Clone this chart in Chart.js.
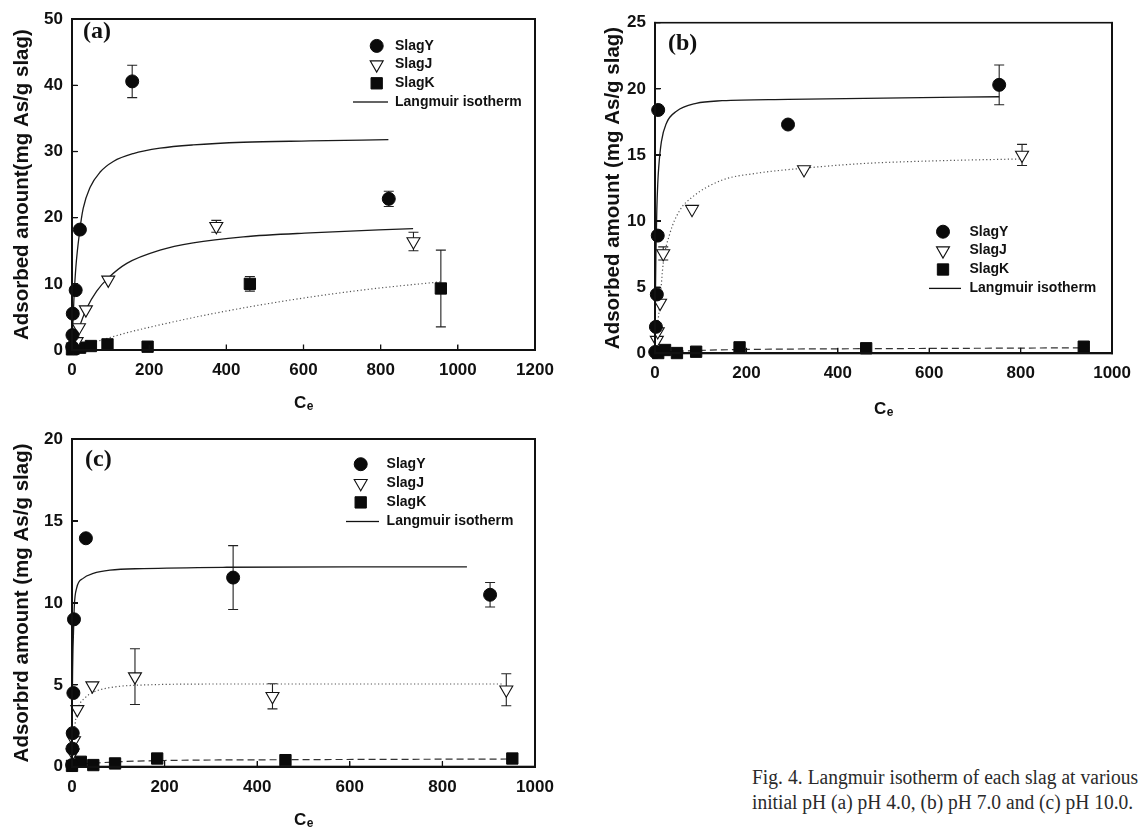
<!DOCTYPE html>
<html>
<head>
<meta charset="utf-8">
<title>Langmuir isotherm of each slag at various initial pH</title>
<style>
    body { margin: 0; background: #fff; width: 1141px; height: 827px; position: relative; overflow: hidden; }
    canvas { position: absolute; }
    .rule { position: absolute; background: #111; pointer-events: none; }
    .cap { position: absolute; left: 752px; width: 386px; font-family: "Liberation Serif", "Times New Roman", serif; font-size: 19.5px; color: #2a2a2a; white-space: nowrap; transform: scaleY(1.12); transform-origin: 0 0; }
    #cap1 { top: 765px; text-align: justify; text-align-last: justify; white-space: normal; }
    #cap2 { top: 790px; }
</style>
<script src="https://cdn.jsdelivr.net/npm/chart.js@4.4.0/dist/chart.umd.min.js"></script>
</head>
<body>
<canvas id="isoA" width="565" height="418" style="left:0px;top:0px"></canvas>
<canvas id="isoB" width="561" height="420" style="left:580px;top:0px"></canvas>
<canvas id="isoC" width="565" height="407" style="left:0px;top:420px"></canvas>
<div class="cap" id="cap1">Fig. 4. Langmuir isotherm of each slag at various</div>
<div class="cap" id="cap2">initial pH (a) pH 4.0, (b) pH 7.0 and (c) pH 10.0.</div>
<script>
const SERIES_NAMES = ["SlagY", "SlagJ", "SlagK"];
const FIT_NAME = "Langmuir isotherm";

// (a) pH 4.0
const A_X_TICKS = [0, 200, 400, 600, 800, 1000, 1200];
const A_Y_TICKS = [0, 10, 20, 30, 40, 50];
const A_Y_C = [0.6, 1.2, 2, 9.5, 20.5, 156, 821];
const A_Y_Q = [0.45, 2.25, 5.5, 9.05, 18.2, 40.6, 22.85];
const A_Y_ERR = [0, 0, 0, 0, 0, 2.45, 1.15];
const A_J_C = [3, 12, 18, 36, 94, 374, 885];
const A_J_Q = [0.5, 1.3, 3.4, 6.1, 10.6, 18.7, 16.4];
const A_J_ERR = [0, 0, 0, 0, 0, 0.9, 1.4];
const A_K_C = [0, 4, 21, 49, 92, 196, 461, 956];
const A_K_Q = [0.1, 0.2, 0.35, 0.6, 0.85, 0.5, 10.0, 9.3];
const A_K_ERR = [0, 0, 0, 0, 0, 0, 1.1, 5.8];
const A_YFIT_C = [0, 2, 5, 10, 20, 29, 47, 73, 107, 159, 228, 314, 444, 617, 820];
const A_YFIT_Q = [0, 3.6, 7.7, 12.5, 18.0, 21.4, 24.6, 26.9, 28.5, 29.7, 30.5, 31.0, 31.4, 31.6, 31.8];
const A_JFIT_C = [0, 4, 8, 18, 38, 64, 94, 142, 228, 314, 444, 617, 884];
const A_JFIT_Q = [0, 0.8, 1.6, 3.3, 6.3, 8.9, 10.9, 13.1, 15.1, 16.2, 17.1, 17.7, 18.35];
const A_KFIT_C = [0, 55, 142, 228, 314, 401, 487, 617, 772, 954];
const A_KFIT_Q = [0, 1.1, 2.6, 3.8, 4.9, 5.9, 6.8, 8.0, 9.2, 10.3];

// (b) pH 7.0
const B_X_TICKS = [0, 200, 400, 600, 800, 1000];
const B_Y_TICKS = [0, 5, 10, 15, 20, 25];
const B_Y_C = [0.5, 2, 4, 6, 7, 291, 753];
const B_Y_Q = [0.1, 2.0, 4.45, 8.9, 18.4, 17.3, 20.3];
const B_Y_ERR = [0, 0, 0, 0, 0, 0, 1.5];
const B_J_C = [4, 6, 11, 18, 81, 326, 803];
const B_J_Q = [1.0, 1.65, 3.8, 7.55, 10.9, 13.9, 15.0];
const B_J_ERR = [0, 0, 0, 0.5, 0, 0, 0.8];
const B_K_C = [7, 22, 48, 90, 185, 462, 938];
const B_K_Q = [0.02, 0.25, 0.02, 0.12, 0.45, 0.38, 0.5];
const B_K_ERR = [0, 0, 0, 0, 0, 0, 0];
const B_YFIT_C = [0, 1, 2, 4, 6, 8, 14, 25, 47, 90, 147, 291, 500, 753];
const B_YFIT_Q = [0, 4.5, 7.5, 10.9, 12.8, 14.0, 16.0, 17.4, 18.3, 18.9, 19.1, 19.2, 19.3, 19.4];
const B_JFIT_C = [0, 4, 8, 11, 18, 32, 54, 81, 147, 219, 326, 455, 610, 803];
const B_JFIT_Q = [0, 1.5, 2.9, 4.0, 6.8, 9.0, 10.8, 11.8, 13.1, 13.6, 14.0, 14.35, 14.55, 14.7];
const B_KFIT_C = [0, 10, 50, 100, 200, 400, 700, 950];
const B_KFIT_Q = [0, 0.05, 0.15, 0.22, 0.29, 0.34, 0.38, 0.42];

// (c) pH 10.0
const C_X_TICKS = [0, 200, 400, 600, 800, 1000];
const C_Y_TICKS = [0, 5, 10, 15, 20];
const C_Y_C = [0.3, 1, 1.5, 3, 4.3, 30, 348, 903];
const C_Y_Q = [0.1, 1.1, 2.05, 4.5, 9.0, 13.95, 11.55, 10.5];
const C_Y_ERR = [0, 0, 0, 0, 0, 0, 1.95, 0.75];
const C_J_C = [1.5, 4.3, 11.5, 44, 136, 433, 938];
const C_J_Q = [0.85, 1.6, 3.5, 4.95, 5.5, 4.3, 4.7];
const C_J_ERR = [0, 0, 0, 0, 1.7, 0.77, 0.98];
const C_K_C = [0, 19, 46, 93, 184, 461, 951];
const C_K_Q = [0.05, 0.3, 0.1, 0.2, 0.5, 0.4, 0.5];
const C_K_ERR = [0, 0, 0, 0, 0, 0, 0];
const C_YFIT_C = [0, 1, 2, 3, 5, 10, 24, 46, 82, 154, 334, 600, 853];
const C_YFIT_Q = [0, 5.0, 7.0, 8.0, 9.8, 10.9, 11.5, 11.8, 12.0, 12.1, 12.18, 12.2, 12.2];
const C_JFIT_C = [0, 2, 6.5, 13.6, 28, 46, 82, 154, 334, 600, 930];
const C_JFIT_Q = [0, 1.2, 2.6, 3.6, 4.2, 4.55, 4.83, 4.99, 5.05, 5.05, 5.05];
const C_KFIT_C = [0, 20, 50, 100, 200, 400, 700, 950];
const C_KFIT_Q = [0, 0.15, 0.22, 0.3, 0.38, 0.42, 0.45, 0.47];

const FONT = '"Liberation Sans", Arial, sans-serif';
const INK = "#111";
const AXIS_INK = "#111";

const STYLE_Y = { pointStyle: "circle", pointRadius: 6.5, pointBackgroundColor: "#0a0a0a", pointBorderColor: "#0a0a0a", pointBorderWidth: 1 };
const STYLE_J = { pointStyle: "triangle", pointRotation: 180, pointRadius: 7.5, pointBackgroundColor: "#fff", pointBorderColor: "#111", pointBorderWidth: 1.1 };
const STYLE_K = { pointStyle: "rect", pointRadius: 8, pointBackgroundColor: "#0a0a0a", pointBorderColor: "#0a0a0a", pointBorderWidth: 1 };
const MARKERS = [STYLE_Y, STYLE_J, STYLE_K];

const LINE_SOLID = { borderColor: "#1a1a1a", borderWidth: 1.3, borderDash: [] };
const LINE_DOT = { borderColor: "#555", borderWidth: 1.2, borderDash: [1.2, 2.4] };
const LINE_DASH = { borderColor: "#333", borderWidth: 1.2, borderDash: [7, 4] };

function pts(xs, ys) {
    return xs.map((x, i) => ({ x: x, y: ys[i] }));
}

function markerSet(name, xs, ys, errs, style) {
    return Object.assign({
        label: name,
        data: pts(xs, ys),
        errors: errs,
        showLine: false,
        clip: false,
        order: 1
    }, style);
}

function fitSet(xs, ys, style) {
    return Object.assign({
        label: FIT_NAME,
        data: pts(xs, ys),
        showLine: true,
        pointRadius: 0,
        pointHoverRadius: 0,
        cubicInterpolationMode: "monotone",
        fill: false,
        clip: false,
        order: 2
    }, style);
}

function drawMarker(ctx, style, x, y) {
    const r = style.pointRadius;
    ctx.save();
    ctx.setLineDash([]);
    ctx.fillStyle = style.pointBackgroundColor;
    ctx.strokeStyle = style.pointBorderColor;
    ctx.lineWidth = style.pointBorderWidth;
    ctx.beginPath();
    if (style.pointStyle === "circle") {
        ctx.arc(x, y, r, 0, Math.PI * 2);
    } else if (style.pointStyle === "triangle") {
        // pointing down
        ctx.moveTo(x, y + r);
        ctx.lineTo(x - r * Math.sin(Math.PI / 3), y - r / 2);
        ctx.lineTo(x + r * Math.sin(Math.PI / 3), y - r / 2);
        ctx.closePath();
    } else {
        const h = r * Math.SQRT1_2;
        ctx.rect(x - h, y - h, 2 * h, 2 * h);
    }
    ctx.fill();
    ctx.stroke();
    ctx.restore();
}

// box round the plot and inward tick marks, as strips [x, y, w, h]
function frameStrips(chart) {
    const a = chart.chartArea;
    const sx = chart.scales.x;
    const sy = chart.scales.y;
    const x0 = sx.left, x1 = sx.right, y0 = sy.top, y1 = sy.bottom;
    const strips = [
        [x0 - 1, y0 - 0.8, x1 - x0 + 1.8, 1.6],
        [x1 - 0.8, y0 - 0.8, 1.6, y1 - y0 + 1.8],
        [x0 - 1, y0 - 0.8, 2, y1 - y0 + 1.8],
        [x0 - 1, y1 - 1, x1 - x0 + 1.8, 2]
    ];
    sx.ticks.forEach(t => {
        strips.push([sx.getPixelForValue(t.value) - 0.65, y1 - 5.5, 1.3, 5.5]);
    });
    sy.ticks.forEach(t => {
        strips.push([x0, sy.getPixelForValue(t.value) - 0.65, 5.5, 1.3]);
    });
    return strips;
}

const panelDecor = {
    id: "panelDecor",
    beforeDatasetsDraw(chart, args, opts) {
        const { ctx, scales } = chart;
        ctx.save();
        ctx.setLineDash([]);
        ctx.strokeStyle = "#222";
        ctx.lineWidth = 1.1;
        chart.data.datasets.forEach(ds => {
            if (!ds.errors) return;
            ds.data.forEach((p, j) => {
                const e = ds.errors[j];
                if (!e) return;
                const x = scales.x.getPixelForValue(p.x);
                const yTop = scales.y.getPixelForValue(p.y + e);
                const yBot = scales.y.getPixelForValue(p.y - e);
                ctx.beginPath();
                ctx.moveTo(x, yTop);
                ctx.lineTo(x, yBot);
                ctx.moveTo(x - 5, yTop);
                ctx.lineTo(x + 5, yTop);
                ctx.moveTo(x - 5, yBot);
                ctx.lineTo(x + 5, yBot);
                ctx.stroke();
            });
        });
        ctx.restore();
    },
    afterDraw(chart, args, opts) {
        const { ctx, chartArea: a } = chart;
        ctx.save();
        ctx.fillStyle = INK;

        // frame
        frameStrips(chart).forEach(s => ctx.fillRect(s[0], s[1], s[2], s[3]));

        // panel label
        ctx.font = 'bold 24px "Liberation Serif", "Times New Roman", serif';
        ctx.textAlign = "left";
        ctx.textBaseline = "middle";
        ctx.fillText(opts.panel, a.left + opts.panelDx, a.top + opts.panelDy);

        // y title
        ctx.save();
        ctx.translate(a.left - opts.yTitleDx, (a.top + a.bottom) / 2);
        ctx.rotate(-Math.PI / 2);
        ctx.font = "bold 20.5px " + FONT;
        ctx.textAlign = "center";
        ctx.textBaseline = "middle";
        ctx.fillText(opts.yTitle, 0, 0);
        ctx.restore();

        // x title C with subscript e
        ctx.textAlign = "left";
        ctx.textBaseline = "alphabetic";
        ctx.font = "bold 17px " + FONT;
        const wC = ctx.measureText("C").width;
        ctx.font = "bold 12px " + FONT;
        const wE = ctx.measureText("e").width;
        const xs = (a.left + a.right) / 2 - (wC + wE) / 2;
        const by = a.bottom + opts.xTitleDy;
        ctx.font = "bold 17px " + FONT;
        ctx.fillText("C", xs, by);
        ctx.font = "bold 12px " + FONT;
        ctx.fillText("e", xs + wC + 0.5, by + 2);

        // legend
        const lg = opts.legend;
        ctx.font = "bold 14px " + FONT;
        ctx.textBaseline = "middle";
        SERIES_NAMES.forEach((name, i) => {
            const y = a.top + lg.y + i * lg.dy;
            drawMarker(ctx, MARKERS[i], a.left + lg.x, y);
            ctx.fillStyle = INK;
            ctx.fillText(name, a.left + lg.tx, y);
        });
        const ly = a.top + lg.y + 3 * lg.dy;
        ctx.fillRect(a.left + lg.l1, ly - 0.65, lg.l2 - lg.l1, 1.3);
        ctx.fillText(FIT_NAME, a.left + lg.tx, ly);
        ctx.restore();
    }
};

function axisOpts(max, tickList, isX, size, pad) {
    return {
        type: "linear",
        min: 0,
        max: max,
        afterBuildTicks: s => { s.ticks = tickList.map(v => ({ value: v })); },
        afterFit: s => { if (isX) { s.height = size; } else { s.width = size; } },
        grid: { display: false, drawTicks: false },
        border: { display: true, width: 2, color: "#000" },
        ticks: {
            padding: pad,
            color: INK,
            callback: v => String(v),
            font: { family: FONT, size: 17, weight: "bold" }
        }
    };
}

// the same frame as page strips laid over the canvas
function overlayFrame(chart) {
    const src = chart.canvas;
    const offX = parseFloat(src.style.left) || 0;
    const offY = parseFloat(src.style.top) || 0;
    frameStrips(chart).forEach(s => {
        const d = document.createElement("div");
        d.className = "rule";
        d.style.left = (offX + s[0]).toFixed(1) + "px";
        d.style.top = (offY + s[1]).toFixed(1) + "px";
        d.style.width = Math.max(1, s[2]).toFixed(1) + "px";
        d.style.height = Math.max(1, s[3]).toFixed(1) + "px";
        document.body.appendChild(d);
    });
}

function makeChart(id, p) {
    const chart = new Chart(document.getElementById(id), {
        type: "scatter",
        data: { datasets: p.datasets },
        options: {
            responsive: false,
            animation: false,
            events: [],
            layout: { padding: p.padding },
            plugins: {
                legend: { display: false },
                tooltip: { enabled: false },
                panelDecor: p.decor
            },
            scales: {
                x: axisOpts(p.xMax, p.xTicks, true, p.xAxisH, 10),
                y: axisOpts(p.yMax, p.yTicks, false, p.yAxisW, 9)
            }
        },
        plugins: [panelDecor]
    });
    overlayFrame(chart);
    return chart;
}

makeChart("isoA", {
    datasets: [
        markerSet(SERIES_NAMES[0], A_Y_C, A_Y_Q, A_Y_ERR, STYLE_Y),
        markerSet(SERIES_NAMES[1], A_J_C, A_J_Q, A_J_ERR, STYLE_J),
        markerSet(SERIES_NAMES[2], A_K_C, A_K_Q, A_K_ERR, STYLE_K),
        fitSet(A_YFIT_C, A_YFIT_Q, LINE_SOLID),
        fitSet(A_JFIT_C, A_JFIT_Q, LINE_SOLID),
        fitSet(A_KFIT_C, A_KFIT_Q, LINE_DOT)
    ],
    xMax: 1200, xTicks: A_X_TICKS, yMax: 50, yTicks: A_Y_TICKS,
    yAxisW: 72, xAxisH: 68,
    padding: { top: 18.5, right: 30, bottom: 0, left: 0 },
    decor: {
        panel: "(a)", panelDx: 11, panelDy: 13,
        yTitle: "Adsorbed anount(mg As/g slag)", yTitleDx: 50,
        xTitleDy: 58,
        legend: { x: 304.7, y: 26.7, dy: 18.7, tx: 323, l1: 281, l2: 316 }
    }
});

makeChart("isoB", {
    datasets: [
        markerSet(SERIES_NAMES[0], B_Y_C, B_Y_Q, B_Y_ERR, STYLE_Y),
        markerSet(SERIES_NAMES[1], B_J_C, B_J_Q, B_J_ERR, STYLE_J),
        markerSet(SERIES_NAMES[2], B_K_C, B_K_Q, B_K_ERR, STYLE_K),
        fitSet(B_YFIT_C, B_YFIT_Q, LINE_SOLID),
        fitSet(B_JFIT_C, B_JFIT_Q, LINE_DOT),
        fitSet(B_KFIT_C, B_KFIT_Q, LINE_DASH)
    ],
    xMax: 1000, xTicks: B_X_TICKS, yMax: 25, yTicks: B_Y_TICKS,
    yAxisW: 75, xAxisH: 66.7,
    padding: { top: 22.7, right: 22.5, bottom: 0, left: 0 },
    decor: {
        panel: "(b)", panelDx: 13, panelDy: 21,
        yTitle: "Adsorbed amount (mg As/g slag)", yTitleDx: 41.5,
        xTitleDy: 61,
        legend: { x: 288, y: 209, dy: 18.9, tx: 314.5, l1: 274, l2: 306 }
    }
});

makeChart("isoC", {
    datasets: [
        markerSet(SERIES_NAMES[0], C_Y_C, C_Y_Q, C_Y_ERR, STYLE_Y),
        markerSet(SERIES_NAMES[1], C_J_C, C_J_Q, C_J_ERR, STYLE_J),
        markerSet(SERIES_NAMES[2], C_K_C, C_K_Q, C_K_ERR, STYLE_K),
        fitSet(C_YFIT_C, C_YFIT_Q, LINE_SOLID),
        fitSet(C_JFIT_C, C_JFIT_Q, LINE_DOT),
        fitSet(C_KFIT_C, C_KFIT_Q, LINE_DASH)
    ],
    xMax: 1000, xTicks: C_X_TICKS, yMax: 20, yTicks: C_Y_TICKS,
    yAxisW: 72, xAxisH: 60.3,
    padding: { top: 15, right: 30, bottom: 0, left: 0 },
    decor: {
        panel: "(c)", panelDx: 13, panelDy: 21,
        yTitle: "Adsorbrd amount (mg As/g slag)", yTitleDx: 50,
        xTitleDy: 58,
        legend: { x: 288.7, y: 25, dy: 19.1, tx: 314.6, l1: 274, l2: 307 }
    }
});
</script>
</body>
</html>
